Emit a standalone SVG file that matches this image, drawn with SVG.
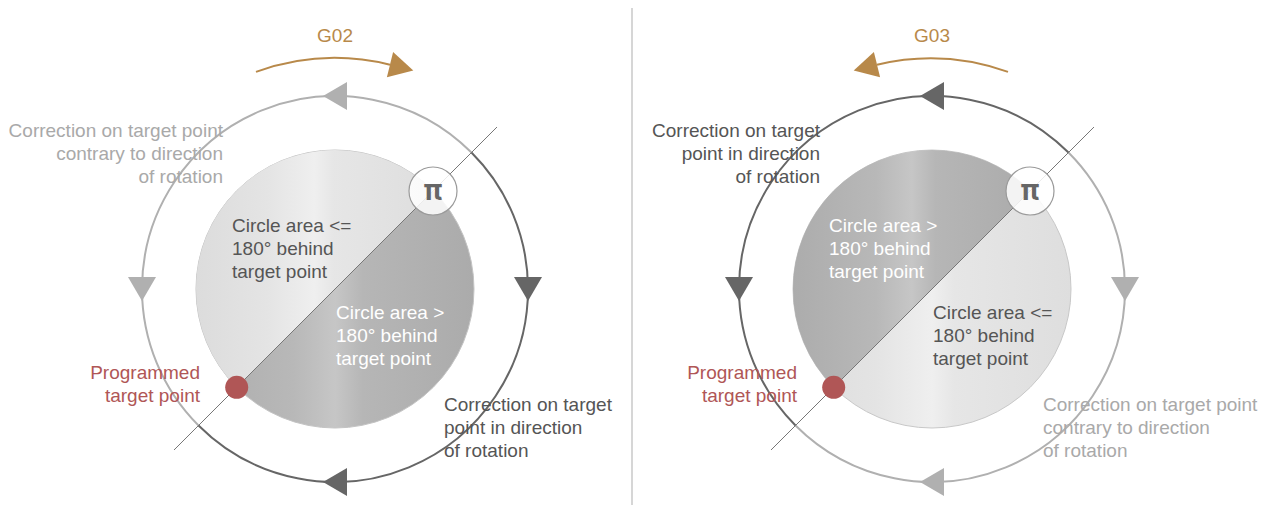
<svg xmlns="http://www.w3.org/2000/svg" width="1268" height="508" viewBox="0 0 1268 508">
<style>
text{font-family:"Liberation Sans",Arial,sans-serif;font-size:19px}
.lt{fill:#a9a9a9}
.dk{fill:#555}
.wh{fill:#fff}
.rd{fill:#b05656}
.gd{fill:#b8894a}
.ringL{fill:none;stroke:#b0b0b0;stroke-width:2}
.ringD{fill:none;stroke:#666;stroke-width:2}
.triL{fill:#b0b0b0}
.triD{fill:#666}
.rot{fill:none;stroke:#b8894a;stroke-width:2}
.diag{stroke:#777;stroke-width:1}
.pi{fill:#fff;fill-opacity:0.85;stroke:#9a9a9a;stroke-width:1.2}
.pit{font-family:Inter,"Noto Sans",sans-serif;font-size:29px;font-weight:bold;fill:#666}
</style>
<defs>
<linearGradient id="gLight" x1="0" y1="0" x2="1" y2="0">
<stop offset="0" stop-color="#dcdcdc"/>
<stop offset="0.3" stop-color="#e4e4e4"/>
<stop offset="0.5" stop-color="#efefef"/>
<stop offset="0.58" stop-color="#e6e6e6"/>
<stop offset="1" stop-color="#dedede"/>
</linearGradient>
<linearGradient id="gDark" x1="0" y1="0" x2="1" y2="0">
<stop offset="0" stop-color="#acacac"/>
<stop offset="0.35" stop-color="#b8b8b8"/>
<stop offset="0.5" stop-color="#c6c6c6"/>
<stop offset="0.6" stop-color="#b6b6b6"/>
<stop offset="1" stop-color="#ababab"/>
</linearGradient>
</defs>
<rect width="1268" height="508" fill="#fff"/>
<line x1="632" y1="8" x2="632" y2="505" stroke="#c8c8c8" stroke-width="1.5"/>

<g id="disc-left">
<circle cx="335" cy="289" r="139" fill="url(#gDark)" stroke="#c4c4c4" stroke-width="1"/>
<path d="M236.71 387.29 A139 139 0 0 1 196 289 A139 139 0 0 1 433.29 190.71 Z" fill="url(#gLight)"/>
</g>
<g id="disc-right">
<circle cx="932" cy="289" r="139" fill="url(#gLight)" stroke="#c8c8c8" stroke-width="1"/>
<path d="M833.71 387.29 A139 139 0 0 1 793 289 A139 139 0 0 1 1030.29 190.71 Z" fill="url(#gDark)"/>
</g>

<g id="connectors">
<path class="ringL" d="M471.47 152.53 A193 193 0 0 0 142 289 A193 193 0 0 0 198.53 425.47"/>
<path class="ringD" d="M471.47 152.53 A193 193 0 0 1 528 289 A193 193 0 0 1 198.53 425.47"/>
<polygon class="triL" points="323,96 347,82 347,110"/>
<polygon class="triL" points="142,301 128,277 156,277"/>
<polygon class="triD" points="528,301 514,277 542,277"/>
<polygon class="triD" points="323,482 347,468 347,496"/>
<line class="diag" x1="174" y1="450" x2="497" y2="127"/>
<path class="rot" d="M256 71.9 A231 231 0 0 1 390 64.7"/>
<polygon class="gd" points="413.3,70.4 393.1,52.1 386.9,77.3"/>

<path class="ringD" d="M1068.47 152.53 A193 193 0 0 0 739 289 A193 193 0 0 0 795.53 425.47"/>
<path class="ringL" d="M1068.47 152.53 A193 193 0 0 1 1125 289 A193 193 0 0 1 795.53 425.47"/>
<polygon class="triD" points="920,96 944,82 944,110"/>
<polygon class="triD" points="739,301 725,277 753,277"/>
<polygon class="triL" points="1125,301 1111,277 1139,277"/>
<polygon class="triL" points="920,482 944,468 944,496"/>
<line class="diag" x1="771" y1="450" x2="1094" y2="127"/>
<path class="rot" d="M1008 71.9 A231 231 0 0 0 877 64.7"/>
<polygon class="gd" points="853.7,70.4 873.9,52.1 880.1,77.3"/>
</g>

<g id="pi-left"><circle class="pi" cx="433" cy="191" r="24"/><text class="pit" x="433" y="200" text-anchor="middle">π</text></g>
<g id="pi-right"><circle class="pi" cx="1030" cy="191" r="24"/><text class="pit" x="1030" y="200" text-anchor="middle">π</text></g>
<g id="target-left"><circle cx="236.7" cy="387.3" r="11.5" fill="#b05656"/></g>
<g id="target-right"><circle cx="833.7" cy="387.3" r="11.5" fill="#b05656"/></g>

<g id="labels-left">
<text class="gd" x="335" y="42" text-anchor="middle">G02</text>
<text class="lt" text-anchor="end"><tspan x="223" y="137">Correction on target point</tspan><tspan x="223" y="160">contrary to direction</tspan><tspan x="223" y="183">of rotation</tspan></text>
<text class="dk"><tspan x="232" y="232">Circle area &lt;=</tspan><tspan x="232" y="255">180° behind</tspan><tspan x="232" y="278">target point</tspan></text>
<text class="wh"><tspan x="336" y="319">Circle area &gt;</tspan><tspan x="336" y="342">180° behind</tspan><tspan x="336" y="365">target point</tspan></text>
<text class="rd" text-anchor="end"><tspan x="200" y="379">Programmed</tspan><tspan x="200" y="402">target point</tspan></text>
<text class="dk"><tspan x="444" y="411">Correction on target</tspan><tspan x="444" y="434">point in direction</tspan><tspan x="444" y="457">of rotation</tspan></text>
</g>
<g id="labels-right">
<text class="gd" x="932" y="42" text-anchor="middle">G03</text>
<text class="dk" text-anchor="end"><tspan x="820" y="137">Correction on target</tspan><tspan x="820" y="160">point in direction</tspan><tspan x="820" y="183">of rotation</tspan></text>
<text class="wh"><tspan x="829" y="232">Circle area &gt;</tspan><tspan x="829" y="255">180° behind</tspan><tspan x="829" y="278">target point</tspan></text>
<text class="dk"><tspan x="933" y="319">Circle area &lt;=</tspan><tspan x="933" y="342">180° behind</tspan><tspan x="933" y="365">target point</tspan></text>
<text class="rd" text-anchor="end"><tspan x="797" y="379">Programmed</tspan><tspan x="797" y="402">target point</tspan></text>
<text class="lt"><tspan x="1043" y="411">Correction on target point</tspan><tspan x="1043" y="434">contrary to direction</tspan><tspan x="1043" y="457">of rotation</tspan></text>
</g>
</svg>
